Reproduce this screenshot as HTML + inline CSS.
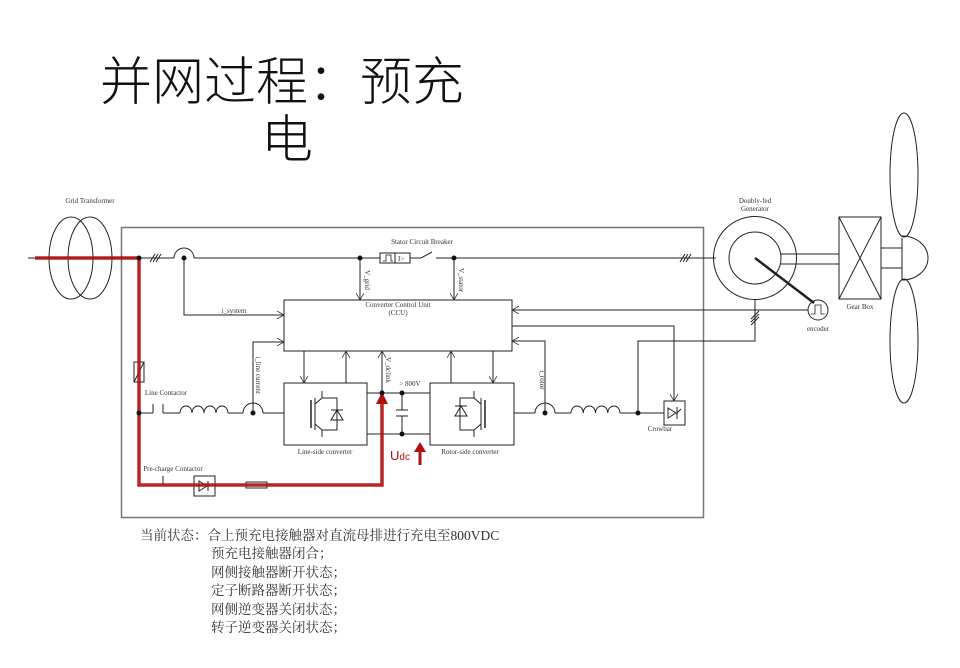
<!DOCTYPE html>
<html><head><meta charset="utf-8"><style>
html,body{margin:0;padding:0;background:#fff;width:960px;height:668px;overflow:hidden}
svg{display:block}
.t{font-family:"Liberation Serif",serif;font-size:7px;fill:#333}
</style></head><body>
<svg width="960" height="668" viewBox="0 0 960 668" xmlns="http://www.w3.org/2000/svg">
<defs>
<marker id="a" markerWidth="8" markerHeight="8" refX="7" refY="4" orient="auto" markerUnits="userSpaceOnUse"><path d="M0,0 L7,4 L0,8" fill="none" stroke="#333" stroke-width="0.8"/></marker>
</defs>
<!-- Title -->
<text x="100" y="100" font-family="'Noto Sans CJK SC',sans-serif" font-size="52" font-weight="300" fill="#111">并网过程：预充</text>
<text x="261" y="158" font-family="'Noto Sans CJK SC',sans-serif" font-size="52" font-weight="300" fill="#111">电</text>

<g stroke="#222" stroke-width="1" fill="none">
<!-- main box -->
<rect x="121.5" y="227.5" width="582" height="290" stroke="#777" stroke-width="1.5"/>
<!-- transformer -->
<ellipse cx="71" cy="258" rx="22" ry="41"/>
<ellipse cx="90" cy="258" rx="22" ry="41"/>
<!-- main line -->
<line x1="28" y1="258" x2="174" y2="258"/>
<path d="M174,258 A10,10 0 0 1 194,258"/>
<line x1="194" y1="258" x2="421" y2="258"/>
<line x1="421" y1="258" x2="432" y2="252"/>
<line x1="436" y1="258" x2="716" y2="258"/>
<line x1="150" y1="262" x2="155" y2="254"/><line x1="153" y1="262" x2="158" y2="254"/><line x1="156" y1="262" x2="161" y2="254"/>
<line x1="680" y1="262" x2="685" y2="254"/><line x1="683" y1="262" x2="688" y2="254"/><line x1="686" y1="262" x2="691" y2="254"/>
<!-- breaker -->
<rect x="380" y="253" width="30" height="10" fill="#fff"/>
<line x1="395" y1="253" x2="395" y2="263"/>
<path d="M383,261 L386,261 L386,255 L391,255 L391,261 L393,261" stroke-width="0.8"/>
<text class="t" x="398" y="261" stroke="none" font-size="6">I&gt;</text>
<!-- v grid / v stator -->
<line x1="360" y1="258" x2="360" y2="300" marker-end="url(#a)"/>
<line x1="454" y1="258" x2="454" y2="300" marker-end="url(#a)"/>
<!-- i system -->
<polyline points="184,258 184,315 284,315" marker-end="url(#a)"/>
<!-- CCU -->
<rect x="284" y="300" width="228" height="51"/>
<!-- generator -->
<circle cx="755" cy="258" r="41.5"/>
<circle cx="755" cy="258" r="26"/>
<line x1="755" y1="258" x2="814" y2="303" stroke-width="2.5"/>
<circle cx="818" cy="310" r="10"/>
<path d="M811,314 L815,314 L815,305 L821,305 L821,314 L825,314" stroke-width="0.8"/>
<line x1="781" y1="254" x2="839" y2="254"/>
<line x1="781" y1="264" x2="839" y2="264"/>
<rect x="839" y="217" width="42" height="82"/>
<line x1="839" y1="217" x2="881" y2="299"/><line x1="881" y1="217" x2="839" y2="299"/>
<line x1="881" y1="248" x2="902" y2="248"/><line x1="881" y1="268" x2="902" y2="268"/>
<line x1="902" y1="238" x2="902" y2="280"/>
<path d="M902,236 A26,22 0 0 1 902,280"/>
<ellipse cx="904" cy="175" rx="14" ry="62"/>
<ellipse cx="904" cy="341" rx="14" ry="62"/>
<!-- encoder line -->
<line x1="808" y1="310" x2="512" y2="310" marker-end="url(#a)"/>
<!-- CCU to crowbar -->
<polyline points="512,326 674,326 674,401" marker-end="url(#a)"/>
<!-- generator rotor line -->
<polyline points="755,299 755,341 638,341 638,413"/>
<line x1="751" y1="322" x2="759" y2="314"/><line x1="751" y1="319" x2="759" y2="311"/><line x1="751" y1="325" x2="759" y2="317"/>
<!-- i rotor -->
<polyline points="545,413 545,341 512,341" marker-end="url(#a)"/>
<!-- line contactor branch -->
<line x1="139" y1="413" x2="153" y2="413"/>
<line x1="153" y1="413" x2="153" y2="404"/>
<line x1="163" y1="404" x2="163" y2="413"/>
<line x1="163" y1="413" x2="180" y2="413"/>
<path d="M180,413 a6,7 0 0 1 12,0 a6,7 0 0 1 12,0 a6,7 0 0 1 12,0 a6,7 0 0 1 12,0"/>
<line x1="228" y1="413" x2="243" y2="413"/>
<path d="M243,413 A10,10 0 0 1 263,413"/>
<line x1="263" y1="413" x2="284" y2="413"/>
<polyline points="253,413 253,342 284,342" marker-end="url(#a)"/>
<!-- line-side converter -->
<rect x="284" y="383" width="83" height="62"/>
<line x1="311" y1="400" x2="311" y2="428" stroke-width="1.5"/>
<line x1="315" y1="398" x2="315" y2="430"/>
<polyline points="315,404 322,398 322,391"/><polyline points="315,424 322,430 322,437"/>
<polyline points="322,398 337,398 337,430 322,430"/>
<path d="M331,420 L343,420 L337,410 Z M331,410 L343,410"/>
<!-- arrows CCU/converters -->
<line x1="304" y1="351" x2="304" y2="383" marker-end="url(#a)"/>
<line x1="346" y1="383" x2="346" y2="351" marker-end="url(#a)"/>
<line x1="382" y1="393" x2="382" y2="351" marker-end="url(#a)"/>
<line x1="451" y1="383" x2="451" y2="351" marker-end="url(#a)"/>
<line x1="493" y1="351" x2="493" y2="383" marker-end="url(#a)"/>
<!-- DC bus -->
<line x1="367" y1="393" x2="430" y2="393"/>
<line x1="367" y1="434" x2="430" y2="434"/>
<line x1="402" y1="393" x2="402" y2="410"/><line x1="396" y1="410" x2="408" y2="410"/>
<line x1="396" y1="416" x2="408" y2="416"/><line x1="402" y1="416" x2="402" y2="434"/>
<!-- rotor-side converter -->
<rect x="430" y="383" width="84" height="62"/>
<line x1="485" y1="400" x2="485" y2="428" stroke-width="1.5"/>
<line x1="481" y1="398" x2="481" y2="430"/>
<polyline points="481,404 474,398 474,391"/><polyline points="481,424 474,430 474,437"/>
<polyline points="474,398 460,398 460,430 474,430"/>
<path d="M455,416 L467,416 L461,406 Z M455,406 L467,406"/>
<!-- rotor side line -->
<line x1="514" y1="413" x2="535" y2="413"/>
<path d="M535,413 A10,10 0 0 1 555,413"/>
<line x1="555" y1="413" x2="571" y2="413"/>
<path d="M571,413 a6.1,7 0 0 1 12.25,0 a6.1,7 0 0 1 12.25,0 a6.1,7 0 0 1 12.25,0 a6.1,7 0 0 1 12.25,0"/>
<line x1="620" y1="413" x2="664" y2="413"/>
<rect x="664" y="401" width="21" height="24"/>
<path d="M668,418 L668,408 L676,413 Z M677,407 L677,419 M677,413 L681,409"/>
<!-- pre-charge -->
<line x1="163" y1="485" x2="163" y2="476"/>
<rect x="194" y="476" width="21" height="20" fill="#fff"/>
<path d="M199,481 L199,491 L207,486 Z M208,481 L208,491"/>
<rect x="246" y="482" width="21" height="6" fill="#fff"/>
<!-- fuse -->
<rect x="134" y="362" width="10" height="20" fill="#fff"/>
<line x1="134" y1="382" x2="144" y2="362"/>
</g>
<!-- red path -->
<polyline points="35,258 139,258 139,485 382,485 382,402" fill="none" stroke="#b01010" stroke-width="3.5" opacity="0.9"/>
<path d="M376,404 L382,392 L388,404 Z" fill="#b01010"/>
<line x1="420" y1="465" x2="420" y2="450" stroke="#b01010" stroke-width="3"/>
<path d="M414,452 L420,442 L426,452 Z" fill="#b01010"/>
<text x="390" y="460" font-family="'Liberation Sans',sans-serif" font-size="13" fill="#b01010">U<tspan font-size="10">dc</tspan></text>
<!-- dots -->
<g fill="#111">
<circle cx="139" cy="258" r="2.5"/><circle cx="184" cy="258" r="2.5"/><circle cx="360" cy="258" r="2.5"/><circle cx="454" cy="258" r="2.5"/>
<circle cx="139" cy="413" r="2.5"/><circle cx="253" cy="413" r="2.5"/><circle cx="382" cy="393" r="2.5"/><circle cx="402" cy="393" r="2.5"/><circle cx="402" cy="434" r="2.5"/>
<circle cx="545" cy="413" r="2.5"/><circle cx="638" cy="413" r="2.5"/>
</g>
<!-- labels -->
<g class="t" text-anchor="middle">
<text x="90" y="203">Grid Transformer</text>
<text x="422" y="244">Stator Circuit Breaker</text>
<text x="398" y="307">Converter Control Unit</text>
<text x="398" y="315">(CCU)</text>
<text x="234" y="313">i_system</text>
<text x="166" y="395">Line Contactor</text>
<text x="173" y="471">Pre-charge Contactor</text>
<text x="325" y="454">Line-side converter</text>
<text x="470" y="454">Rotor-side converter</text>
<text x="410" y="386">&gt; 800V</text>
<text x="660" y="431">Crowbar</text>
<text x="755" y="203">Doubly-fed</text>
<text x="755" y="211">Generator</text>
<text x="818" y="331">encoder</text>
<text x="860" y="309">Gear Box</text>
<text transform="translate(365,280) rotate(90)">V_grid</text>
<text transform="translate(459,280) rotate(90)">V_stator</text>
<text transform="translate(256,375) rotate(90)">i_line current</text>
<text transform="translate(386,370) rotate(90)">V_dclink</text>
<text transform="translate(540,380) rotate(90)">i_rotor</text>
</g>
<!-- bottom text -->
<g font-family="'Liberation Serif','Noto Serif CJK SC',serif" font-size="13.5" fill="#333">
<text x="140" y="540">当前状态：合上预充电接触器对直流母排进行充电至800VDC</text>
<text x="211" y="558">预充电接触器闭合；</text>
<text x="211" y="577">网侧接触器断开状态；</text>
<text x="211" y="595">定子断路器断开状态；</text>
<text x="211" y="614">网侧逆变器关闭状态；</text>
<text x="211" y="632">转子逆变器关闭状态；</text>
</g>
</svg>
</body></html>
